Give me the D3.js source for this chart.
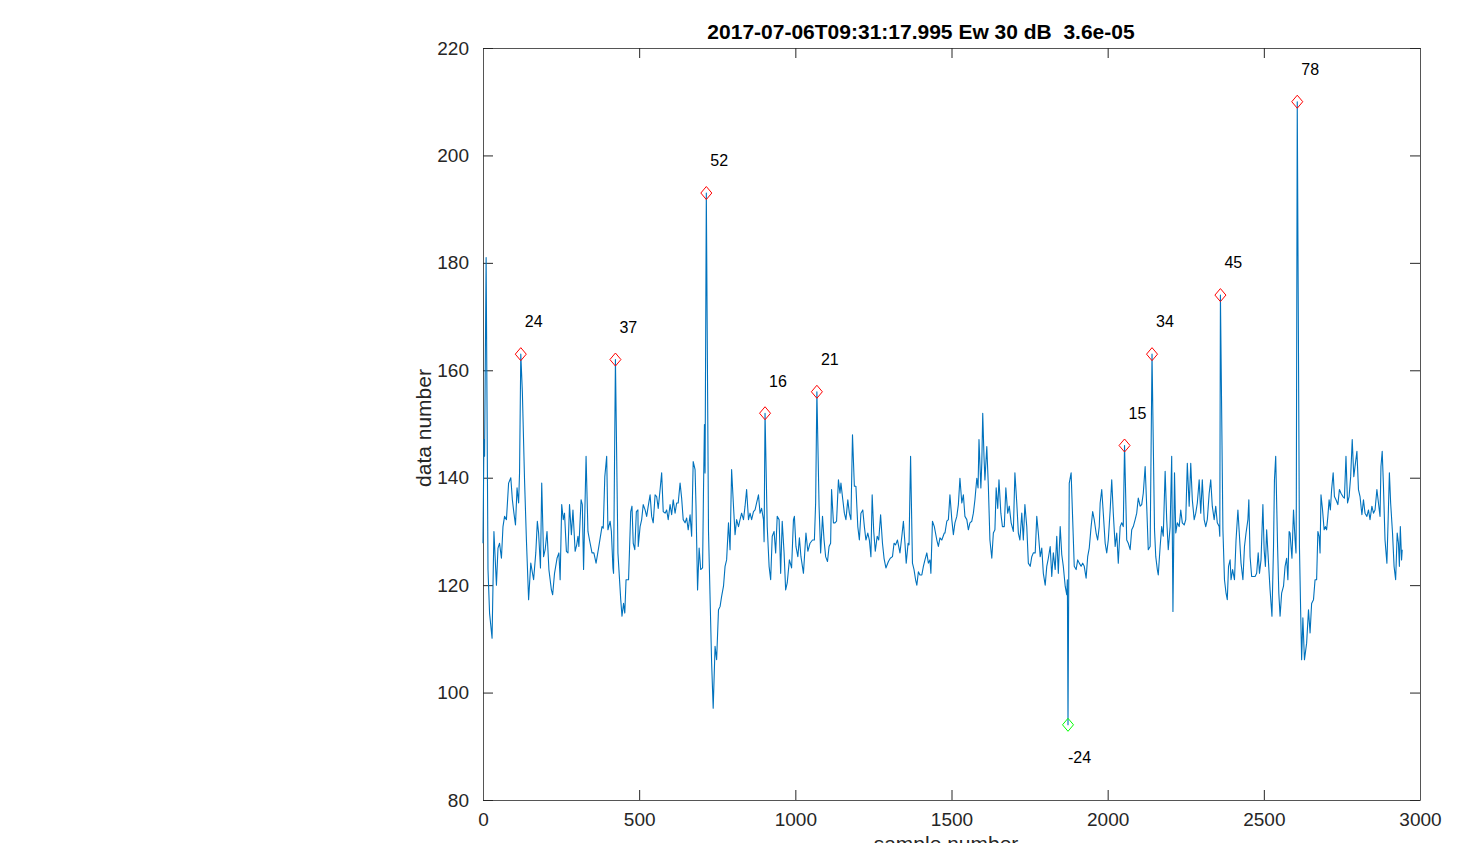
<!DOCTYPE html>
<html>
<head>
<meta charset="utf-8">
<script src="https://cdn.jsdelivr.net/npm/d3@7"></script>
<style>
  html, body { margin: 0; padding: 0; background: #fff; }
  svg { display: block; }
  text { font-family: "Liberation Sans", Arial, Helvetica, sans-serif; }
</style>
</head>
<body>
<svg id="chart" width="1470" height="843"></svg>
<script>
// ---- data ----
const titleText = "2017-07-06T09:31:17.995 Ew 30 dB  3.6e-05";
const xLabel = "sample number";
const yLabel = "data number";
const xTicks = [0, 500, 1000, 1500, 2000, 2500, 3000];
const yTicks = [80, 100, 120, 140, 160, 180, 200, 220];

const samples = [
  0,3,5,10,16,21,29,35,43,48,53,59,64,69,75,82,89,94,99,104,109,114,117,121,126,133,139,146,153,162,169,174,178,184,188,194,199,205,211,219,223,229,237,243,247,252,257,261,267,272,277,283,288,295,300,304,307,314,318,322,330,336,341,349,355,362,370,381,385,390,396,400,407,411,416,418,424,432,441,445,450,454,458,466,473,477,481,486,491,496,
  497,503,508,513,519,524,529,535,540,545,551,556,561,567,572,577,583,588,593,599,604,609,615,620,625,631,636,641,647,652,657,663,668,673,679,682,687,692,697,703,706,709,711,715,722,732,737,743,748,754,759,764,770,775,780,786,791,796,802,807,812,818,823,828,834,839,844,850,855,860,866,871,876,882,887,892,898,900,903,910,916,921,926,932,937,942,948,953,958,964,969,974,981,
  988,994,997,1002,1008,1013,1018,1026,1034,1040,1047,1055,1061,1065,1069,1076,1081,1087,1092,1097,1103,1108,1113,1116,1122,1127,1132,1138,1143,1146,1152,1157,1162,1168,1173,1178,1183,1189,1194,1200,1205,1210,1216,1221,1226,1232,1237,1242,1246,1251,1256,1262,1267,1273,1279,1284,1290,1298,1304,1311,1316,1321,1327,1335,1341,1346,1351,1355,1361,1364,1369,1375,1380,1385,1389,1394,1399,1405,1410,1415,1421,1426,1431,1434,1439,1445,1453,1458,1463,1469,1477,
  1479,1485,1490,1495,1501,1506,1511,1517,1522,1527,1533,1538,1543,1549,1554,1559,1565,1570,1575,1581,1585,1588,1594,1597,1600,1604,1607,1613,1618,1623,1629,1634,1639,1643,1648,1652,1658,1663,1669,1674,1680,1685,1691,1698,1703,1709,1714,1719,1725,1730,1735,1741,1746,1752,1757,1762,1768,1773,1778,1784,1789,1794,1800,1805,1810,1816,1821,1826,1832,1837,1842,1848,1853,1858,1864,1869,1871,1873,1877,1883,1888,1893,1899,1904,1909,1915,1920,1925,1931,1936,1941,1947,1952,1957,1963,1968,1973,
  1976,1981,1986,1992,1997,2002,2008,2013,2018,2024,2029,2034,2040,2045,2050,2054,2061,2066,2072,2077,2082,2088,2093,2098,2104,2109,2114,2120,2125,2130,2136,2142,2150,2154,2159,2162,2168,2173,2178,2184,2189,2194,2200,2205,2209,2214,2218,2223,2229,2234,2239,2245,2250,2255,2261,2266,2271,2277,2282,2287,2293,2298,2303,2309,2314,2319,2325,2330,2335,2341,2346,2351,2357,2359,2361,2369,2374,2379,2383,2387,2392,2395,2400,2406,2411,2417,2422,2427,2433,2438,2443,2449,2452,2456,2461,2467,
  2472,2477,2482,2486,2491,2497,2501,2505,2509,2515,2520,2526,2531,2534,2538,2544,2548,2552,2557,2563,2568,2573,2577,2581,2584,2587,2590,2595,2600,2603,2604,2607,2614,2618,2621,2625,2630,2637,2643,2648,2653,2659,2664,2669,2673,2677,2680,2683,2688,2693,2697,2701,2705,2709,2713,2717,2722,2726,2731,2737,2742,2747,2753,2758,2763,2768,2773,2778,2783,2788,2792,2798,2803,2808,2814,2819,2824,2830,2835,2840,2846,2851,2856,2862,2867,2872,2875,2879,2883,2888,2894,2898,2902,2906,2912,2917,2922,2927,2931,2934,2937,2941,2943
];
const values = [
  127.8,147.1,144,181,122.9,114.8,110.1,130,120,126.9,127.8,125,130.9,132.8,132.2,139,140,135.9,133.4,131.2,138.1,135.3,140.9,163,156,139.6,128.4,117.3,124.1,121,126,131.9,129.7,123.2,139,125.3,126.6,130,122.9,119.1,118.2,122.2,125,126,121,135,132.2,133.4,126.3,126,135,129.4,134,126.3,127.5,129.1,127.2,135.9,135,122.9,144,130,128.4,126,126,124.1,126.9,130.9,130.6,140.2,144,130.3,131.9,130,123.2,122.2,162,126,117.3,114.2,116.6,114.8,121,121,133.7,134.7,127.8,126.6,133.7,134,
  127.2,130.9,132.2,135,134,132.8,134.7,136.8,132.8,131.6,136.8,136.5,134.3,137.8,140.9,133.7,133.4,134,132.2,135,133.1,135.9,133.4,135.3,135.3,139,136.2,132.2,131.6,132.5,130.3,133.1,129.1,143,141.5,134.7,119.1,126.9,122.9,123.2,137.8,149.9,140.9,193,130,105.5,97.1,108.6,106.1,115.4,116,117.9,119.8,123.5,124.7,131.6,126.6,141.5,134.7,129.4,132.2,130.9,132.2,133.4,132.2,134.7,137.8,132.2,133.4,132.2,133.7,134,135.3,136.8,133.4,134.3,132.2,128.1,152,130.9,123.5,121,129.1,130,126,132.8,132.2,122.2,131.9,126,119.1,120.4,124.7,
  123.2,132.2,132.8,127.2,125.3,128.8,125.3,122.2,129.7,126.3,127.8,128.4,128.4,135.3,156,134.7,126,132.8,128.4,125.3,124.4,127.2,127.8,137.8,131.6,131.6,131.9,139.6,137.1,139,135.9,133.4,132.2,135.9,133.4,132.2,148,138.4,138.4,130.9,128.4,133.4,134,130.9,128.4,129.7,128.4,125.3,136.8,130,126.3,129.1,128.4,133.1,127.8,125,123.2,124.4,125,125.3,127.8,127.5,128.4,126,129.1,131.9,127.8,124.1,127.8,127.5,144,124.1,122.9,121,120,122.5,121.9,121.9,123.5,124.7,126,124.1,124.7,122.2,131.9,130.9,128.4,127.2,128.8,128.4,129.7,
  129.7,131.9,132.2,136.8,132.2,129.4,131.6,132.8,135,139.9,135.3,136.8,132.8,132.2,130.3,131.6,131.9,133.4,135.9,139.9,138.1,147.1,138.1,142.7,152,144,139.6,145.8,138.4,128.4,125,129.7,130.3,138.1,134.3,139.6,133.4,130.9,130.9,138.1,133.4,134.7,131.6,130,140.9,135.3,129.7,128.4,133.4,128.4,135,130.9,124.1,123.5,125.3,126,126,132.8,129.7,125.3,126.9,122.2,120,123.5,125,127.2,121.6,126,122.9,129.1,122.2,130.9,125.7,123.5,119.8,118.2,121,94,139,140.9,132.2,123.5,122.9,124.7,124.1,123.5,124.1,123.5,121.3,125.3,126.9,130.9,133.7,132.2,129.7,128.4,130.9,
  135.3,137.8,133.4,127.8,126,128.4,134,139.6,133.4,127.2,129.7,124.1,130.9,131.6,130.9,146,128.4,127.8,126.6,130.3,130.9,132.2,133.4,136.2,134.7,135,137.1,142.1,134.7,126.6,127.2,163,130.3,125.3,122.9,121.9,127.2,130.9,129.1,141.2,132.2,126.6,130.9,144,115.1,140.9,129.7,131.6,130.9,134,131.6,131.2,132.2,142.7,134.7,142.7,135.9,132.2,133.4,135.3,139.6,133.4,139.6,132.2,130.9,132.2,137.1,139.6,134.7,132.2,134.7,131.6,130.9,129.1,174,130.3,121,118.5,117.3,123.5,124.7,121,122.9,121,128.4,134,129.1,124.1,121,127.2,129.7,132.2,135.9,125.3,121.6,121.6,
  121.6,122.2,126,122.2,124.7,135,126.6,123.5,130.3,124.1,119.1,114.2,127.2,139.6,144,127.2,118.5,114.2,118.5,119.8,123.5,125,121,130,129.7,127.2,125,134,128.4,126,135,210,127.2,114.8,106.1,113.9,106.1,109.2,115.4,111.1,116.6,117.3,121,121,130,129.1,126,136.8,134,130.3,130.9,130.3,132.8,135.9,134,137.8,140.9,136.5,135.9,135,137.8,137.1,136.5,136.2,144,135.3,136.5,140.2,147.1,140.2,142.1,144.9,137.8,136.5,133.1,135.9,133.4,132.8,134,132.2,134.7,133.4,134,137.8,135.3,132.8,142.1,144.9,138.4,128.4,124.1,132.2,140.9,135.3,129.7,123.5,121,129.7,127.8,123.5,130.9,124.7,126.6
];

const peakX = [121, 424, 715, 903, 1069, 2054, 2142, 2361, 2607];
const peakY = [163, 162, 193, 152, 156, 146, 163, 174, 210];
const peakLabels = ["24", "37", "52", "16", "21", "15", "34", "45", "78"];
const troughX = [1873];
const troughY = [94];
const troughLabels = ["-24"];

// ---- drawing ----
(function draw() {
  const svg = d3.select("#chart");
  const pL = 483, pR = 1420, pT = 48, pB = 800;
  const x = d3.scaleLinear().domain([0, 3000]).range([pL, pR]);
  const y = d3.scaleLinear().domain([80, 220]).range([pB, pT]);

  const axisColor = "#262626";
  const tickFont = 19;

  function styleAxis(g) {
    g.selectAll("path.domain").attr("stroke", "#555").attr("stroke-width", 1);
    g.selectAll(".tick line").attr("stroke", axisColor).attr("stroke-width", 1);
    g.selectAll(".tick text").attr("fill", axisColor)
      .style("font-size", tickFont + "px")
      .style("font-family", '"Liberation Sans", Arial, Helvetica, sans-serif');
  }

  svg.append("g").attr("transform", `translate(0,${pB})`)
    .call(d3.axisBottom(x).tickValues(xTicks).tickSizeInner(-10).tickSizeOuter(0).tickPadding(13).tickFormat(d3.format("d")))
    .call(styleAxis);
  svg.append("g").attr("transform", `translate(0,${pT})`)
    .call(d3.axisTop(x).tickValues(xTicks).tickSizeInner(-10).tickSizeOuter(0).tickFormat(""))
    .call(styleAxis);
  svg.append("g").attr("transform", `translate(${pL},0)`)
    .call(d3.axisLeft(y).tickValues(yTicks).tickSizeInner(-10).tickSizeOuter(0).tickPadding(14).tickFormat(d3.format("d")))
    .call(styleAxis);
  svg.append("g").attr("transform", `translate(${pR},0)`)
    .call(d3.axisRight(y).tickValues(yTicks).tickSizeInner(-10).tickSizeOuter(0).tickFormat(""))
    .call(styleAxis);

  // data line
  const n = Math.min(samples.length, values.length);
  const pts = d3.range(n).map(i => [samples[i], values[i]]);
  svg.append("path")
    .datum(pts)
    .attr("fill", "none")
    .attr("stroke", "#0072BD")
    .attr("stroke-width", 1.1)
    .attr("stroke-linejoin", "round")
    .attr("d", d3.line().x(d => x(d[0])).y(d => y(d[1])));

  // diamond markers
  const diamond = (cx, cy) => `M${cx},${cy - 6.5}L${cx + 5.5},${cy}L${cx},${cy + 6.5}L${cx - 5.5},${cy}Z`;
  const peaks = peakX.map((s, i) => ({ s, v: peakY[i], t: peakLabels[i] }));
  const troughs = troughX.map((s, i) => ({ s, v: troughY[i], t: troughLabels[i] }));

  svg.selectAll("path.peak").data(peaks).enter().append("path")
    .attr("class", "peak")
    .attr("d", d => diamond(x(d.s), y(d.v)))
    .attr("fill", "none").attr("stroke", "#FF0000").attr("stroke-width", 1);
  svg.selectAll("text.peak").data(peaks).enter().append("text")
    .attr("class", "peak")
    .attr("x", d => x(d.s) + 4)
    .attr("y", d => y(d.v + 6))
    .attr("dominant-baseline", "central")
    .style("font-size", "16px").attr("fill", "#000")
    .text(d => d.t);

  svg.selectAll("path.trough").data(troughs).enter().append("path")
    .attr("class", "trough")
    .attr("d", d => diamond(x(d.s), y(d.v)))
    .attr("fill", "none").attr("stroke", "#00FF00").attr("stroke-width", 1);
  svg.selectAll("text.trough").data(troughs).enter().append("text")
    .attr("class", "trough")
    .attr("x", d => x(d.s))
    .attr("y", d => y(d.v - 6))
    .attr("dominant-baseline", "central")
    .style("font-size", "16px").attr("fill", "#000")
    .text(d => d.t);

  // title and axis labels
  svg.append("text")
    .attr("x", 921).attr("y", 39)
    .attr("text-anchor", "middle")
    .style("font-size", "21px").style("font-weight", "bold")
    .style("white-space", "pre")
    .attr("xml:space", "preserve")
    .attr("fill", "#000")
    .text(titleText);

  svg.append("text")
    .attr("x", 946).attr("y", 851)
    .attr("text-anchor", "middle")
    .style("font-size", "21px")
    .attr("fill", axisColor)
    .text(xLabel);

  svg.append("text")
    .attr("transform", "translate(431,428) rotate(-90)")
    .attr("text-anchor", "middle")
    .style("font-size", "21px")
    .attr("fill", axisColor)
    .text(yLabel);
})();
</script>
</body>
</html>
